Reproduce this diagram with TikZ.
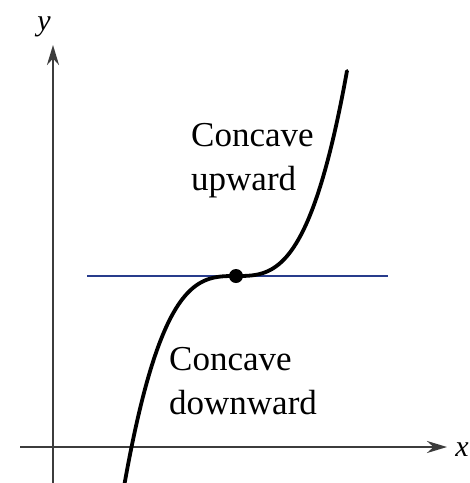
\documentclass[tikz,border=0pt]{standalone}
\usepackage{fontspec}
\setmainfont{Liberation Serif}
\usetikzlibrary{arrows.meta}
\definecolor{axisgray}{RGB}{60,60,60}
\definecolor{tanblue}{RGB}{40,60,140}
\tikzset{
  axis/.style={draw=axisgray, line width=2.4pt, -{Stealth[length=20pt,width=12pt]}},
  lbl/.style={font=\fontsize{35}{44}\selectfont, align=left, inner sep=0pt, anchor=base west},
  axlbl/.style={font=\fontsize{30}{36}\selectfont\itshape, inner sep=0pt},
}
\begin{document}
\begin{tikzpicture}[x=1pt,y=-1pt]
\useasboundingbox (0,0) rectangle (470,483);
\fill[white] (0,0) rectangle (470,483);
% axes
\coordinate (xs) at (20,447);
\coordinate (xe) at (447,447);
\coordinate (ys) at (53,483);
\coordinate (ye) at (53,45);
\draw[axis] (xs) -- (xe);
\draw[axis] (ys) -- (ye);
\node[axlbl, anchor=base] (ylab) at (44,30) {y};
\node[axlbl, anchor=base east] (xlab) at (469,456) {x};
% tangent line
\coordinate (ta) at (87,276);
\coordinate (tb) at (388,276);
\draw[tanblue, line width=2.4pt] (ta) -- (tb);
% curve
\begin{scope}
\clip (0,0) rectangle (470,483);
\draw[black, line width=3.8pt, line cap=round]
  plot[domain=-1.14:1.11, samples=120, smooth] ({236+100*\x},{276-150*\x*\x*\x});
\end{scope}
% inflection point
\node[circle, fill=black, inner sep=0pt, minimum size=14pt] (p) at (236,276) {};
% labels
\node[lbl] (up) at (191,190) {Concave\\upward};
\node[lbl] (down) at (169,414) {Concave\\downward};
\end{tikzpicture}
\end{document}
